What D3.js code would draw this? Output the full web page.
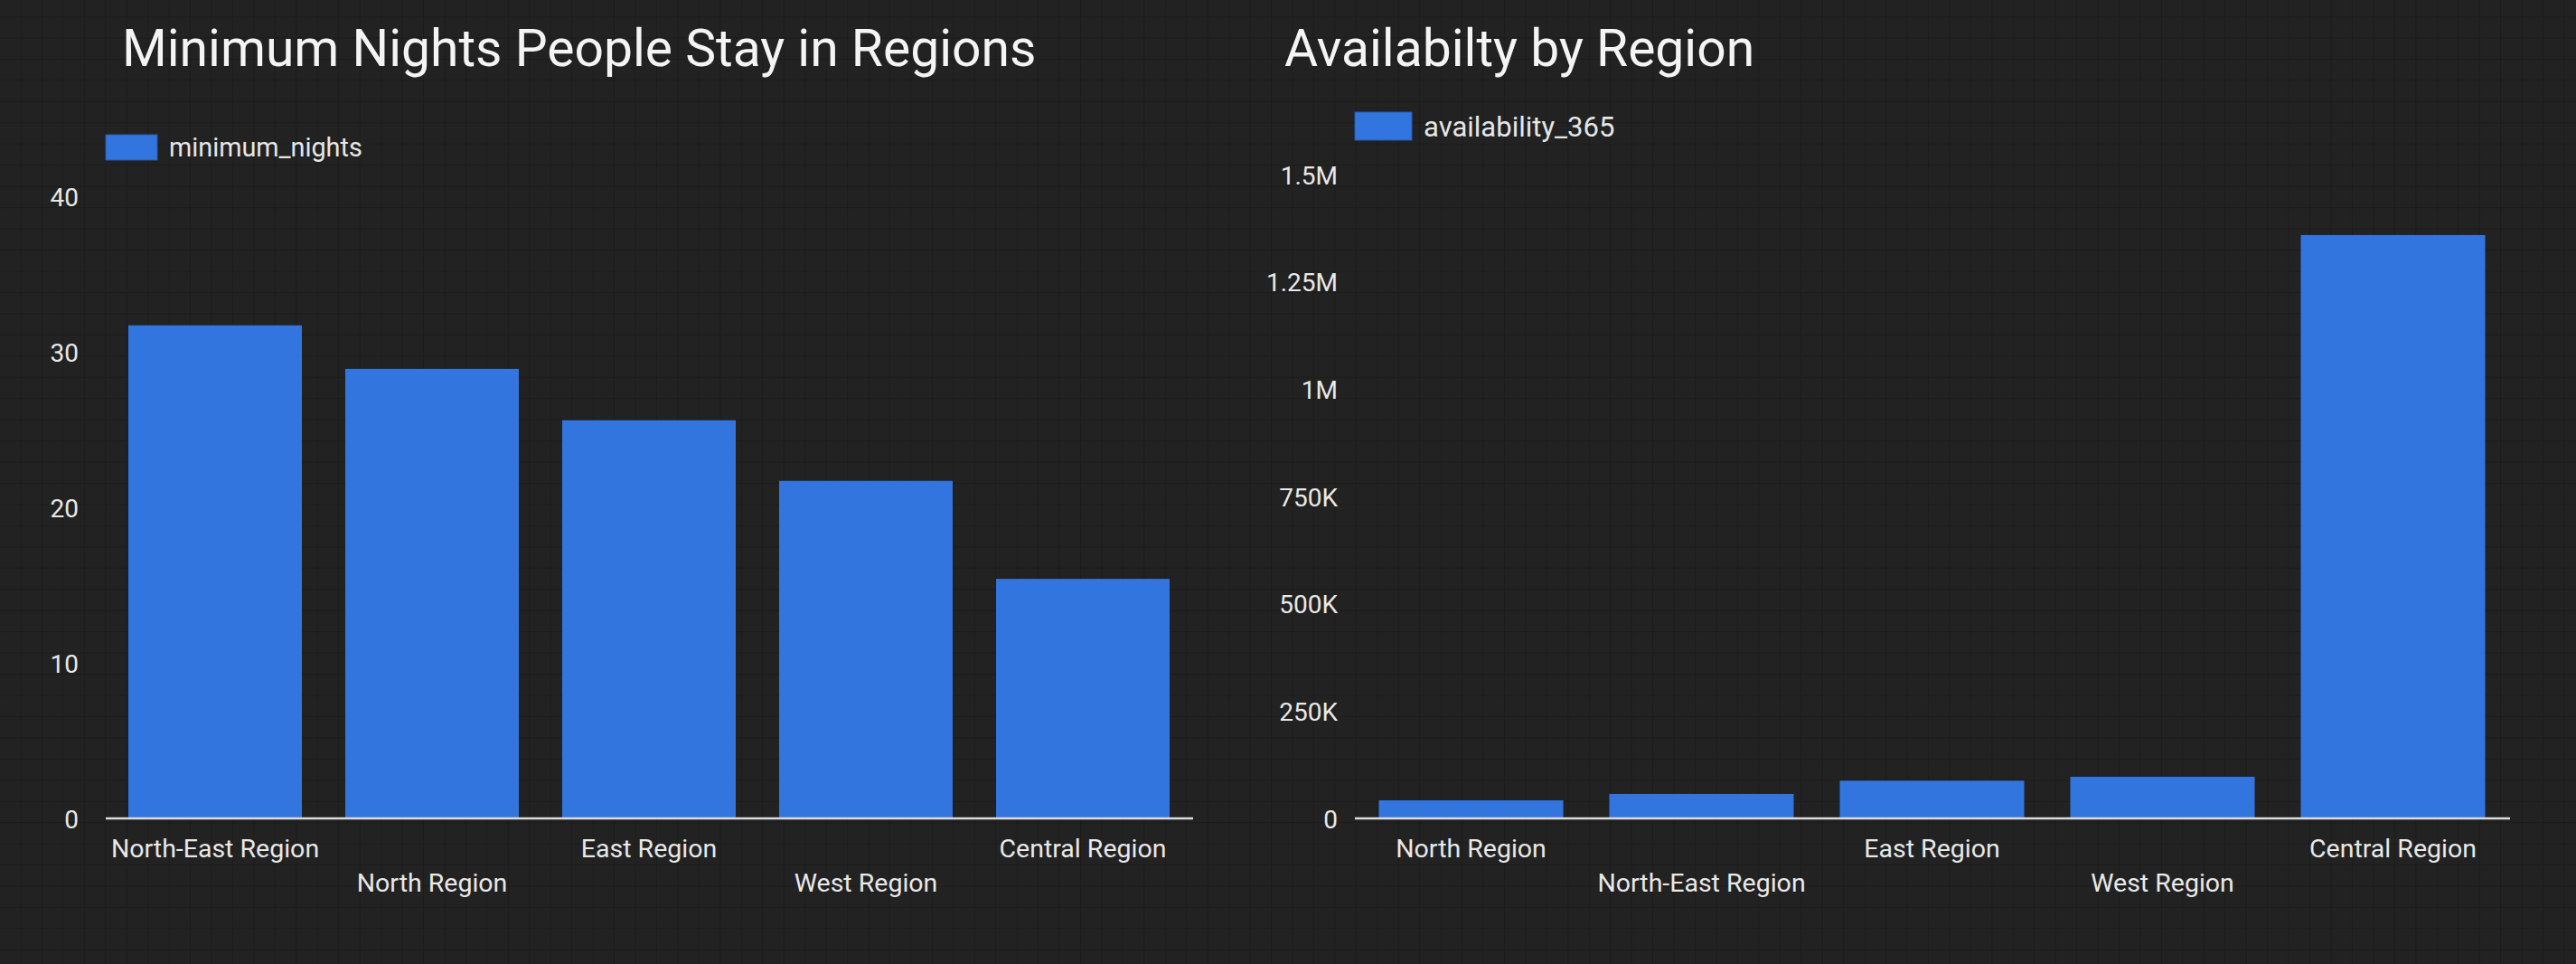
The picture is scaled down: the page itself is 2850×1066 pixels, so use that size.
<!DOCTYPE html>
<html>
<head>
<meta charset="utf-8">
<script src="https://cdn.jsdelivr.net/npm/d3@7"></script>
<style>
  html, body { margin: 0; padding: 0; background: #212121; }
  svg { display: block; font-family: Roboto, "Noto Sans", sans-serif; }
</style>
</head>
<body>
<script>
// ---- Data ----
const nightsRegions = ["North-East Region", "North Region", "East Region", "West Region", "Central Region"];
const nightsValues = [31.7, 28.9, 25.6, 21.7, 15.4];
const nightsTicks = [0, 10, 20, 30, 40];
const nightsSeries = "minimum_nights";
const nightsTitle = "Minimum Nights People Stay in Regions";

const availRegions = ["North Region", "North-East Region", "East Region", "West Region", "Central Region"];
const availValues = [42000, 57000, 88000, 97000, 1359000];
const availTicks = [0, 250000, 500000, 750000, 1000000, 1250000, 1500000];
const availTickLabels = ["0", "250K", "500K", "750K", "1M", "1.25M", "1.5M"];
const availSeries = "availability_365";
const availTitle = "Availabilty by Region";

// ---- Canvas ----
const W = 2850, H = 1066;
const BAR = "#3275df";
const svg = d3.select("body").append("svg").attr("width", W).attr("height", H);

// background grid
const defs = svg.append("defs");
const pat = defs.append("pattern").attr("id", "grid").attr("patternUnits", "userSpaceOnUse")
  .attr("width", 23.45).attr("height", 23.45).attr("x", -1).attr("y", -5.5);
pat.append("rect").attr("width", 23.45).attr("height", 23.45).attr("fill", "#222222");
pat.append("path").attr("d", "M0,0V23.45M0,0H23.45").attr("stroke", "#1c1c1c").attr("stroke-width", 2.2).attr("fill", "none");
svg.append("rect").attr("width", W).attr("height", H).attr("fill", "url(#grid)");

function drawChart(cfg) {
  const g = svg.append("g");
  // title
  g.append("text").attr("x", cfg.titleX).attr("y", 73)
    .attr("font-size", 57).attr("fill", "#f4f4f4").text(cfg.title);
  // legend
  g.append("rect").attr("x", cfg.legX).attr("y", cfg.legY)
    .attr("width", cfg.legW).attr("height", cfg.legH).attr("fill", BAR)
    .attr("stroke", "#2b5aa8").attr("stroke-width", 1);
  g.append("text").attr("x", cfg.legTextX).attr("y", cfg.legBase)
    .attr("font-size", cfg.legFont).attr("fill", "#e6e6e6").text(cfg.series);

  const x = d3.scaleBand().domain(cfg.cats).range([cfg.x0, cfg.x1])
    .paddingInner(0.2).paddingOuter(0.1);
  const y = d3.scaleLinear().domain(cfg.domain).range([905, cfg.yTop]);

  // bars
  g.selectAll("rect.bar").data(cfg.values).enter().append("rect")
    .attr("class", "bar")
    .attr("x", (d, i) => x(cfg.cats[i]))
    .attr("y", d => y(d))
    .attr("width", x.bandwidth())
    .attr("height", d => y(0) - y(d))
    .attr("fill", BAR);

  // y axis
  const ya = g.append("g").attr("transform", `translate(${cfg.yLabelX},0)`)
    .call(d3.axisLeft(y).tickValues(cfg.ticks).tickSize(0).tickPadding(0)
      .tickFormat((d, i) => cfg.tickLabels[i]));
  ya.select(".domain").remove();
  ya.selectAll("text").attr("font-size", 28).attr("fill", "#e8e8e8")
    .attr("font-family", "Roboto, sans-serif").attr("dy", "0.36em");

  // baseline
  g.append("line").attr("x1", cfg.x0 - 1).attr("x2", cfg.x1 + 2)
    .attr("y1", y(0)).attr("y2", y(0))
    .attr("stroke", "#dcdcdc").attr("stroke-width", 2.4);

  // x labels, alternating rows
  const xa = g.append("g").attr("transform", `translate(0,${y(0)})`)
    .call(d3.axisBottom(x).tickSize(0).tickPadding(0));
  xa.select(".domain").remove();
  xa.selectAll("text").attr("font-size", 28.5).attr("fill", "#e8e8e8")
    .attr("font-family", "Roboto, sans-serif")
    .attr("dy", null)
    .attr("y", (d, i) => (i % 2 === 0 ? 43 : 81));
}

drawChart({
  title: nightsTitle, titleX: 135,
  series: nightsSeries, legX: 117, legY: 149, legW: 57, legH: 28, legTextX: 187, legBase: 173, legFont: 28.8,
  cats: nightsRegions, values: nightsValues,
  x0: 118, x1: 1318, domain: [0, 40], yTop: 217,
  ticks: nightsTicks, tickLabels: nightsTicks.map(String), yLabelX: 87
});

drawChart({
  title: availTitle, titleX: 1421,
  series: availSeries, legX: 1499, legY: 124, legW: 63, legH: 31, legTextX: 1575, legBase: 151, legFont: 31,
  cats: availRegions, values: availValues,
  x0: 1500, x1: 2775, domain: [0, 1500000], yTop: 193,
  ticks: availTicks, tickLabels: availTickLabels, yLabelX: 1480
});
</script>
</body>
</html>
